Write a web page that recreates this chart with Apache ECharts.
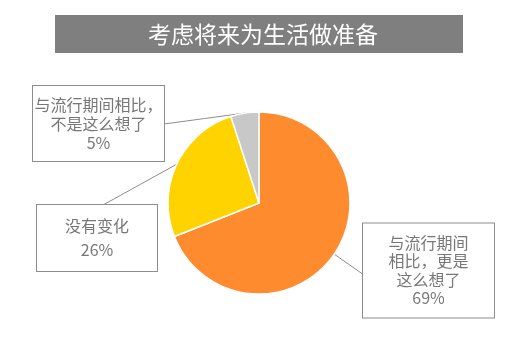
<!DOCTYPE html>
<html>
<head>
<meta charset="utf-8">
<script src="https://cdn.jsdelivr.net/npm/echarts@6/dist/echarts.min.js"></script>
<style>html,body{margin:0;padding:0;background:#fff}#c{width:526px;height:337px}</style>
</head>
<body>
<div id="c"></div>
<script>
var titleText = '考虑将来为生活做准备';
var categories = ['与流行期间\n相比，更是\n这么想了', '没有变化', '与流行期间相比，\n不是这么想了'];
var values = [69, 26, 5];
var colors = ['#FF8B2F', '#FFD300', '#C8C8C8'];

var labelPos = [
  {x: 428.5, y: 270.5, lx: 364, ly: 275},
  {x: 97, y: 238, lx: 103, ly: 205},
  {x: 98.5, y: 123.5, lx: 164, ly: 124}
];
var labelBox = [
  {width: 125, padding: [11, 3, 9, 3], lineHeight: 18.5},
  {width: 114, padding: [9, 3], lineHeight: 24},
  {width: 125, padding: [9, 3], lineHeight: 19}
];

var chart = echarts.init(document.getElementById('c'), null, {renderer: 'canvas'});
var data = values.map(function (v, i) {
  return {
    name: categories[i],
    value: v,
    itemStyle: {color: colors[i]},
    label: {
      width: labelBox[i].width,
      padding: labelBox[i].padding,
      lineHeight: labelBox[i].lineHeight
    }
  };
});
chart.setOption({
  animation: false,
  graphic: [{
    type: 'rect',
    shape: {x: 55, y: 15, width: 408, height: 38},
    style: {fill: '#7F7F7F'},
    z: 0
  }],
  title: {
    text: titleText,
    left: 'center',
    top: 20,
    padding: 0,
    textStyle: {color: '#fff', fontSize: 23, fontWeight: 'normal', fontFamily: 'Noto Sans CJK SC', lineHeight: 28},
    z: 10
  },
  series: [{
    type: 'pie',
    center: [259, 203],
    radius: 91,
    startAngle: 90,
    clockwise: true,
    data: data,
    itemStyle: {borderColor: '#fff', borderWidth: 1.5},
    label: {
      show: true,
      position: 'outside',
      formatter: function (p) { return p.name + '\n' + p.value + '%'; },
      color: '#777777',
      fontSize: 16,
      fontFamily: 'Noto Sans CJK SC',
      align: 'center',
      overflow: 'none',
      backgroundColor: '#fff',
      borderColor: '#8C8C8C',
      borderWidth: 1
    },
    labelLine: {
      show: true,
      length: 10,
      length2: 10,
      lineStyle: {color: '#8C8C8C', width: 1}
    },
    labelLayout: function (params) {
      var p = labelPos[params.dataIndex];
      var res = {x: p.x, y: p.y, align: 'center', verticalAlign: 'middle'};
      var pts = params.labelLinePoints;
      if (pts && pts.length) {
        var s = pts[0];
        res.labelLinePoints = [
          [s[0], s[1]],
          [(s[0] + p.lx) / 2, (s[1] + p.ly) / 2],
          [p.lx, p.ly]
        ];
      }
      return res;
    }
  }]
});
</script>
</body>
</html>
